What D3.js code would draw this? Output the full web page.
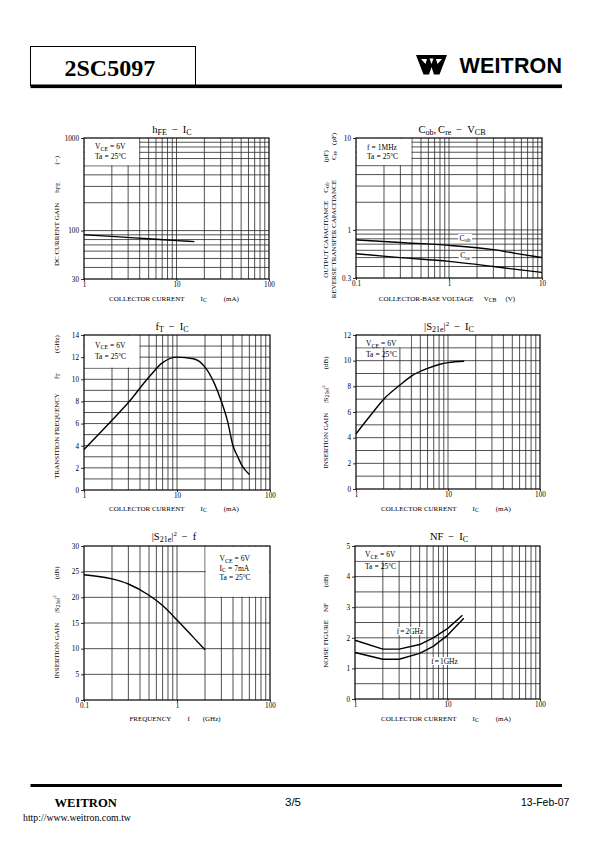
<!DOCTYPE html>
<html><head><meta charset="utf-8">
<script src="https://cdn.jsdelivr.net/npm/d3@7"></script>
<style>
body{margin:0;background:#fff}
svg{display:block}
text{font-family:"Liberation Serif","Times New Roman",serif;fill:#000}
</style>
</head><body>
<svg id="c" width="595" height="842"></svg>
<script>
// ---------------- data ----------------
const hfeIc = [1, 2, 5, 10, 15.6];
const hfeVal = [90, 86.5, 81.5, 78, 76];

const capVcb = [0.1, 0.3, 1, 3, 5, 10];
const cobVal = [0.78, 0.73, 0.68, 0.61, 0.56, 0.50];
const creVal = [0.55, 0.50, 0.455, 0.40, 0.375, 0.345];

const ftIc = [1, 2, 3, 5, 7, 10, 15, 20, 25, 30, 35, 40, 45, 50, 60];
const ftVal = [3.66, 6.3, 7.9, 10.2, 11.5, 12.0, 11.85, 11.1, 9.7, 8.0, 6.2, 4.0, 3.0, 2.2, 1.4];

const s21Ic = [1, 1.5, 2, 3, 4, 6, 8, 10, 15];
const s21IcVal = [4.3, 5.9, 7.0, 8.1, 8.8, 9.4, 9.7, 9.85, 9.95];

const s21F = [0.1, 0.2, 0.3, 0.5, 0.7, 1, 1.5, 2];
const s21FVal = [24.4, 23.6, 22.6, 20.4, 18.4, 15.6, 12.2, 9.8];

const nfIc2 = [1, 2, 3, 5, 7, 10, 14.5];
const nf2GHz = [1.92, 1.63, 1.63, 1.78, 2.0, 2.3, 2.74];
const nfIc1 = [1, 2, 3, 5, 7, 10, 15];
const nf1GHz = [1.52, 1.30, 1.30, 1.49, 1.72, 2.08, 2.64];

// tick values and labels
const ticksIc = [1, 10, 100], labelsIc = ["1", "10", "100"];
const ticksHfe = [30, 100, 1000], labelsHfe = ["30", "100", "1000"];
const ticksVcb = [0.1, 1, 10], labelsVcb = ["0.1", "1", "10"];
const ticksCap = [0.3, 1, 10], labelsCap = ["0.3", "1", "10"];
const ticksFt = [0, 2, 4, 6, 8, 10, 12, 14], labelsFt = ["0", "2", "4", "6", "8", "10", "12", "14"];
const ticksS21 = [0, 2, 4, 6, 8, 10, 12], labelsS21 = ["0", "2", "4", "6", "8", "10", "12"];
const ticksFreq = [0.1, 1, 10], labelsFreq = ["0.1", "1", "100"];
const ticksS21f = [0, 5, 10, 15, 20, 25, 30], labelsS21f = ["0", "5", "10", "15", "20", "25", "30"];
const ticksNf = [0, 1, 2, 3, 4, 5], labelsNf = ["0", "1", "2", "3", "4", "5"];

// ---------------- helpers ----------------
const svg = d3.select('#c');

function rich(sel, parts, size, sub) {
  let cur = 0;
  parts.forEach(p => {
    const [s, kind, gap] = p;
    const t = sel.append('tspan').text(s);
    let target = 0, fs = size;
    if (kind === 'sub') { target = size * 0.2; fs = sub; }
    else if (kind === 'sup') { target = -size * 0.38; fs = sub * 0.85; }
    t.attr('font-size', fs);
    if (target !== cur) { t.attr('dy', target - cur); cur = target; }
    if (gap) t.attr('dx', gap);
  });
  return sel;
}

function logGrid(a, b) {
  const out = [];
  let d = Math.pow(10, Math.floor(Math.log10(a) + 1e-9));
  for (; d < b; d *= 10) for (let k = 1; k <= 9; k++) {
    const v = +(d * k).toPrecision(3);
    if (v > a * 1.0001 && v < b * 0.9999) out.push(v);
  }
  return out;
}

function panel(o) {
  const g = svg.append('g');
  const sx = (o.xLog ? d3.scaleLog() : d3.scaleLinear()).domain(o.xDom).range([o.L, o.R]);
  const sy = (o.yLog ? d3.scaleLog() : d3.scaleLinear()).domain(o.yDom).range([o.B, o.T]);
  const gs = '#262626', gw = 0.8;
  g.append('g').selectAll('line').data(o.xGrid).join('line')
    .attr('x1', d => sx(d)).attr('x2', d => sx(d)).attr('y1', o.T).attr('y2', o.B)
    .attr('stroke', gs).attr('stroke-width', gw);
  g.append('g').selectAll('line').data(o.yGrid).join('line')
    .attr('y1', d => sy(d)).attr('y2', d => sy(d)).attr('x1', o.L).attr('x2', o.R)
    .attr('stroke', gs).attr('stroke-width', gw);
  if (o.box) {
    const x0 = sx(o.box[0]), x1 = sx(o.box[1]);
    const y0 = sy(o.box[3]), y1 = sy(o.box[2]);
    g.append('rect').attr('x', x0 + 0.6).attr('y', y0 + 0.6)
      .attr('width', x1 - x0 - 1.2).attr('height', y1 - y0 - 1.2).attr('fill', '#fff');
  }
  g.append('rect').attr('x', o.L).attr('y', o.T).attr('width', o.R - o.L).attr('height', o.B - o.T)
    .attr('fill', 'none').attr('stroke', '#000').attr('stroke-width', 1.2);
  const ya = d3.axisLeft(sy).tickValues(o.yTicks).tickFormat((d, i) => o.yLabels[i]).tickSize(3).tickPadding(2);
  const yg = g.append('g').attr('transform', `translate(${o.L},0)`).call(ya);
  const xa = d3.axisBottom(sx).tickValues(o.xTicks).tickFormat((d, i) => o.xLabels[i]).tickSize(2).tickPadding(1);
  const xg = g.append('g').attr('transform', `translate(0,${o.B})`).call(xa);
  [yg, xg].forEach(a => {
    a.attr('font-family', null).attr('font-size', 7.2);
    a.select('.domain').remove();
    a.selectAll('line').attr('stroke', '#000').attr('stroke-width', 0.8);
  });
  rich(g.append('text').attr('x', o.title.x).attr('y', o.title.y).attr('text-anchor', 'middle'), o.title.parts, 10.5, 8);
  rich(g.append('text').attr('x', o.xlab.x).attr('y', o.xlab.y).attr('text-anchor', 'middle'), o.xlab.parts, 7, 5.8);
  o.ylab.forEach(l => {
    rich(g.append('text').attr('transform', `translate(${l.x},${l.y}) rotate(-90)`).attr('text-anchor', 'middle'), l.parts, 7, 5.8);
  });
  o.legend.forEach(l => {
    rich(g.append('text').attr('x', l.x).attr('y', l.y), l.parts, 7.5, 6);
  });
  return { g, sx, sy };
}

function curve(p, xs, ys, kind) {
  const line = d3.line().x(d => p.sx(d[0])).y(d => p.sy(d[1]))
    .curve(kind === 'lin' ? d3.curveLinear : d3.curveMonotoneX);
  p.g.append('path').datum(xs.map((x, i) => [x, ys[i]])).attr('d', line)
    .attr('fill', 'none').attr('stroke', '#000').attr('stroke-width', 1.4).attr('stroke-linejoin', 'round');
}

function tag(p, x, y, parts) {
  const t = p.g.append('text').attr('x', x).attr('y', y).attr('text-anchor', 'middle');
  rich(t, parts, 7.5, 6);
  const b = t.node().getBBox();
  p.g.insert('rect', () => t.node()).attr('x', b.x - 1.5).attr('y', b.y + 0.5)
    .attr('width', b.width + 3).attr('height', b.height - 1).attr('fill', '#fff');
}

const gridIc = logGrid(1, 100);
const vce = [['V'], ['CE', 'sub'], ['=', null, 2], ['6V', null, 2]];
const ta = [['Ta'], ['=', null, 2], ['25°C', null, 2]];
const icLabel = [['COLLECTOR CURRENT'], ['I', null, 16], ['C', 'sub'], ['(mA)', null, 17]];

// ---------------- header ----------------
svg.append('rect').attr('x', 30.5).attr('y', 46.5).attr('width', 165).attr('height', 39)
  .attr('fill', 'none').attr('stroke', '#000').attr('stroke-width', 1);
svg.append('rect').attr('x', 30.5).attr('y', 84.5).attr('width', 531.5).attr('height', 3.6).attr('fill', '#000');
svg.append('text').attr('x', 64.5).attr('y', 75.5).attr('font-size', 24).attr('font-weight', 'bold').text('2SC5097');
const lg = svg.append('g').attr('transform', 'translate(416,55)');
lg.append('path').attr('d', 'M0,0 H31 L23.5,19.5 H18 L15.5,12 L13,19.5 H7.5 Z').attr('fill', '#000');
lg.append('path').attr('d', 'M5,4 H11 L9.5,9 Z M20,4 H26 L21.5,9 Z').attr('fill', '#fff');
lg.append('path').attr('d', 'M13.5,3.5 H17.5 L15.5,9 Z').attr('fill', '#fff');
svg.append('text').attr('x', 459.5).attr('y', 73).attr('font-size', 21.5).attr('font-weight', 'bold')
  .style('font-family', '"Liberation Sans",Arial,sans-serif').attr('textLength', 102.5).text('WEITRON');

// ---------------- panel 1: hFE - IC ----------------
const p1 = panel({
  L: 84, R: 269, T: 138, B: 279, xLog: true, yLog: true, xDom: [1, 100], yDom: [30, 1000],
  xGrid: gridIc, yGrid: logGrid(30, 1000),
  box: [1, 4, 500, 1000],
  xTicks: ticksIc, xLabels: labelsIc, yTicks: ticksHfe, yLabels: labelsHfe,
  title: { x: 172, y: 132.5, parts: [['h'], ['FE', 'sub'], ['−', null, 5], ['I', null, 5], ['C', 'sub']] },
  xlab: { x: 174, y: 301, parts: icLabel },
  ylab: [{ x: 58.5, y: 211, parts: [['DC CURRENT GAIN'], ['h', null, 10], ['FE', 'sub'], ['(−)', null, 18]] }],
  legend: [{ x: 95, y: 149, parts: vce }, { x: 95, y: 158.5, parts: ta }]
});
curve(p1, hfeIc, hfeVal);

// ---------------- panel 2: Cob, Cre - VCB ----------------
const p2 = panel({
  L: 356, R: 542, T: 138, B: 278, xLog: true, yLog: true, xDom: [0.1, 10], yDom: [0.3, 10],
  xGrid: logGrid(0.1, 10), yGrid: logGrid(0.3, 10),
  box: [0.1, 0.4, 5, 10],
  xTicks: ticksVcb, xLabels: labelsVcb, yTicks: ticksCap, yLabels: labelsCap,
  title: { x: 452, y: 133, parts: [['C'], ['ob', 'sub'], [','], ['C', null, 2], ['re', 'sub'], ['−', null, 5], ['V', null, 5], ['CB', 'sub']] },
  xlab: { x: 447, y: 301, parts: [['COLLECTOR-BASE VOLTAGE'], ['V', null, 10], ['CB', 'sub'], ['(V)', null, 9]] },
  ylab: [
    { x: 327.5, y: 214, parts: [['OUTPUT CAPACITANCE'], ['C', null, 8], ['ob', 'sub'], ['(pF)', null, 20]] },
    { x: 335.5, y: 215.5, parts: [['REVERSE TRANSFER CAPACITANCE'], ['C', null, 20], ['re', 'sub'], ['(pF)', null, 6]] }
  ],
  legend: [{ x: 367, y: 149.5, parts: [['f'], ['=', null, 2], ['1MHz', null, 2]] }, { x: 367, y: 159, parts: ta }]
});
curve(p2, capVcb, cobVal);
curve(p2, capVcb, creVal);
tag(p2, 465, 240.5, [['C'], ['ob', 'sub']]);
tag(p2, 465, 258, [['C'], ['re', 'sub']]);

// ---------------- panel 3: fT - IC ----------------
const p3 = panel({
  L: 84, R: 270, T: 335, B: 490, xLog: true, yLog: false, xDom: [1, 100], yDom: [0, 14],
  xGrid: gridIc, yGrid: d3.range(1, 14),
  box: [1, 4, 11, 14],
  xTicks: ticksIc, xLabels: labelsIc, yTicks: ticksFt, yLabels: labelsFt,
  title: { x: 172, y: 330, parts: [['f'], ['T', 'sub'], ['−', null, 5], ['I', null, 5], ['C', 'sub']] },
  xlab: { x: 174, y: 510.5, parts: icLabel },
  ylab: [{ x: 58.5, y: 407, parts: [['TRANSITION FREQUENCY'], ['f', null, 14], ['T', 'sub'], ['(GHz)', null, 20]] }],
  legend: [{ x: 95, y: 347.5, parts: vce }, { x: 95, y: 359, parts: ta }]
});
curve(p3, ftIc, ftVal);

// ---------------- panel 4: |S21e|^2 - IC ----------------
const p4 = panel({
  L: 356, R: 540, T: 335, B: 489, xLog: true, yLog: false, xDom: [1, 100], yDom: [0, 12],
  xGrid: gridIc, yGrid: d3.range(1, 12),
  box: [1, 4, 11, 12],
  xTicks: ticksIc, xLabels: labelsIc, yTicks: ticksS21, yLabels: labelsS21,
  title: { x: 449, y: 330, parts: [['|S'], ['21e', 'sub'], ['|'], ['2', 'sup'], ['−', null, 5], ['I', null, 5], ['C', 'sub']] },
  xlab: { x: 446, y: 510.5, parts: icLabel },
  ylab: [{ x: 327.5, y: 412.5, parts: [['INSERTION GAIN'], ['|S', null, 10], ['21e', 'sub'], ['|'], ['2', 'sup'], ['(dB)', null, 16]] }],
  legend: [{ x: 366, y: 346, parts: vce }, { x: 366, y: 356.5, parts: ta }]
});
curve(p4, s21Ic, s21IcVal);

// ---------------- panel 5: |S21e|^2 - f ----------------
const p5 = panel({
  L: 84, R: 270, T: 546, B: 700, xLog: true, yLog: false, xDom: [0.1, 10], yDom: [0, 30],
  xGrid: logGrid(0.1, 10), yGrid: [5, 10, 15, 20, 25],
  box: [2, 10, 20, 30],
  xTicks: ticksFreq, xLabels: labelsFreq, yTicks: ticksS21f, yLabels: labelsS21f,
  title: { x: 174, y: 540, parts: [['|S'], ['21e', 'sub'], ['|'], ['2', 'sup'], ['−', null, 5], ['f', null, 5]] },
  xlab: { x: 175, y: 721, parts: [['FREQUENCY'], ['f', null, 16], ['(GHz)', null, 13]] },
  ylab: [{ x: 58.5, y: 622.5, parts: [['INSERTION GAIN'], ['|S', null, 10], ['21e', 'sub'], ['|'], ['2', 'sup'], ['(dB)', null, 16]] }],
  legend: [{ x: 219.5, y: 561.3, parts: vce }, { x: 219.5, y: 570.6, parts: [['I'], ['C', 'sub'], ['=', null, 2], ['7mA', null, 2]] }, { x: 219.5, y: 579.9, parts: ta }]
});
curve(p5, s21F, s21FVal);

// ---------------- panel 6: NF - IC ----------------
const p6 = panel({
  L: 355, R: 540, T: 546, B: 699, xLog: true, yLog: false, xDom: [1, 100], yDom: [0, 5],
  xGrid: gridIc, yGrid: d3.range(0.5, 5, 0.5),
  box: [1, 4, 4.5, 5],
  xTicks: ticksIc, xLabels: labelsIc, yTicks: ticksNf, yLabels: labelsNf,
  title: { x: 449, y: 540, parts: [['NF'], ['−', null, 5], ['I', null, 5], ['C', 'sub']] },
  xlab: { x: 446, y: 721, parts: icLabel },
  ylab: [{ x: 327.5, y: 621, parts: [['NOISE FIGURE'], ['NF', null, 8], ['(dB)', null, 16]] }],
  legend: [{ x: 365, y: 557, parts: vce }, { x: 365, y: 569, parts: ta }]
});
curve(p6, nfIc2, nf2GHz, 'lin');
curve(p6, nfIc1, nf1GHz, 'lin');
tag(p6, 410, 633.5, [['f'], ['=', null, 1], ['2GHz', null, 1]]);
tag(p6, 444.5, 663.5, [['f'], ['=', null, 1], ['1GHz', null, 1]]);

// ---------------- footer ----------------
svg.append('rect').attr('x', 30.5).attr('y', 784).attr('width', 531.5).attr('height', 3).attr('fill', '#000');
svg.append('text').attr('x', 54.5).attr('y', 807).attr('font-size', 12.6).attr('font-weight', 'bold').text('WEITRON');
svg.append('text').attr('x', 23).attr('y', 820.5).attr('font-size', 9.8).text('http://www.weitron.com.tw');
svg.append('text').attr('x', 285).attr('y', 806).attr('font-size', 11.5)
  .style('font-family', '"Liberation Sans",Arial,sans-serif').text('3/5');
svg.append('text').attr('x', 521).attr('y', 806).attr('font-size', 10.5)
  .style('font-family', '"Liberation Sans",Arial,sans-serif').text('13-Feb-07');
</script>
</body></html>
